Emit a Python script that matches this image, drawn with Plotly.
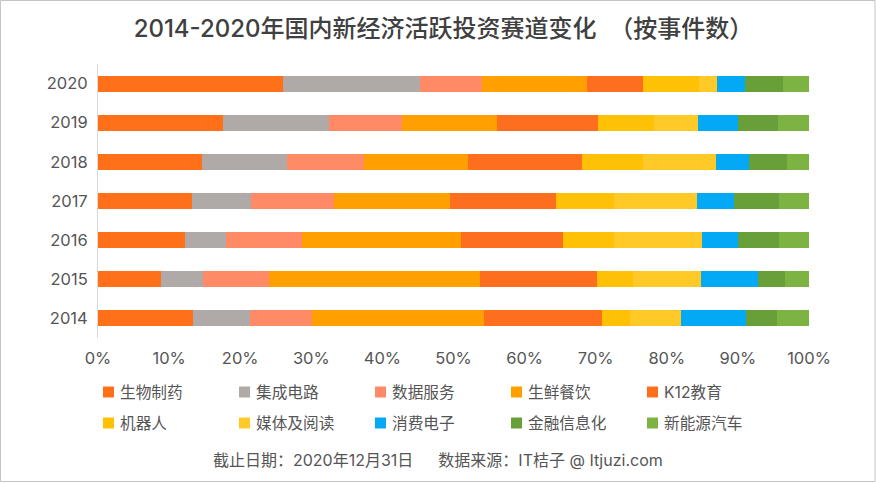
import plotly.graph_objects as go

years = ["2014", "2015", "2016", "2017", "2018", "2019", "2020"]

# 各赛道占比(%)  2014 -> 2020
biopharma = [13.36, 8.86, 12.24, 13.22, 14.63, 17.58, 26.0]
chips = [7.97, 5.91, 5.76, 8.3, 11.95, 14.91, 19.25]
data_service = [8.72, 9.28, 10.65, 11.63, 10.79, 10.21, 8.72]
fresh_food = [24.24, 29.68, 22.4, 16.36, 14.67, 13.4, 14.81]
k12 = [16.6, 16.45, 14.35, 14.91, 16.03, 14.2, 7.87]
robot = [3.93, 5.07, 7.17, 8.15, 8.58, 7.9, 7.88]
media = [7.18, 9.56, 12.38, 11.68, 10.27, 6.2, 2.53]
consumer_elec = [9.1, 8.02, 5.02, 5.15, 4.64, 5.57, 3.94]
fintech = [4.4, 3.79, 5.81, 6.38, 5.34, 5.63, 5.34]
new_energy_car = [4.5, 3.38, 4.22, 4.22, 3.1, 4.4, 3.66]

names = ["生物制药", "集成电路", "数据服务", "生鲜餐饮", "K12教育",
         "机器人", "媒体及阅读", "消费电子", "金融信息化", "新能源汽车"]
series = [biopharma, chips, data_service, fresh_food, k12,
          robot, media, consumer_elec, fintech, new_energy_car]
colors = ["#FF7019", "#AFAAA8", "#FF8A65", "#FF9F00", "#FD6E1E",
          "#FFC106", "#FFCA28", "#03A9F4", "#689F38", "#7CB342"]

WIDTH, HEIGHT = 876, 483
FONT = "Inter, Noto Sans CJK SC"
TEXT = "#555555"
left, top, bottom, right = 98, 64, 338, 809


def paper_x(px):
    return (px - left) / (right - left)


def paper_y(py):
    return (bottom - py) / (bottom - top)


fig = go.Figure()

for name, values, color in zip(names, series, colors):
    fig.add_trace(go.Bar(y=years, x=values, name=name, orientation="h",
                         marker=dict(color=color, line_width=0)))

# 外框
shapes = [dict(type="rect", xref="paper", yref="paper",
               x0=paper_x(0.5), x1=paper_x(875), y0=paper_y(0.5), y1=paper_y(481.5),
               line=dict(width=1, color="#C4C4C4"))]
annotations = []

# 图例: 两行五列
for i, (name, color) in enumerate(zip(names, colors)):
    px = 103 + 136 * (i % 5)
    py = 392 + 31 * (i // 5)
    shapes.append(dict(type="rect", xref="paper", yref="paper",
                       x0=paper_x(px), x1=paper_x(px + 11),
                       y0=paper_y(py - 5.5), y1=paper_y(py + 5.5),
                       fillcolor=color, line_width=0))
    annotations.append(dict(text=name, xref="paper", yref="paper", showarrow=False,
                            x=paper_x(px + 16), xanchor="left",
                            y=paper_y(py), yanchor="middle",
                            xshift=-1,
                            font=dict(size=15.7, color=TEXT, family=FONT)))

annotations.append(dict(text="截止日期：2020年12月31日　\u00a0\u00a0数据来源：IT桔子 @ Itjuzi.com",
                        xref="paper", yref="paper", showarrow=False,
                        x=paper_x(437.5), xanchor="center",
                        y=paper_y(460), yanchor="middle",
                        font=dict(size=16, color=TEXT, family=FONT)))

fig.update_layout(
    width=WIDTH, height=HEIGHT,
    margin=dict(l=left, r=WIDTH - right, t=top, b=HEIGHT - bottom, pad=0),
    barmode="stack", bargap=0.59,
    showlegend=False,
    plot_bgcolor="white", paper_bgcolor="white",
    font=dict(family=FONT, color=TEXT, size=15.7),
    title=dict(text="2014-2020年国内新经济活跃投资赛道变化 \u00a0（按事件数）",
               x=443.5 / WIDTH, xanchor="center", y=1 - 29 / HEIGHT, yanchor="middle",
               font=dict(size=24, color="#404040", family=FONT, weight=500)),
    xaxis=dict(range=[0, 100], tickvals=list(range(0, 101, 10)),
               ticktext=[f"{v}%" for v in range(0, 101, 10)],
               showgrid=False, zeroline=False, ticks="", showline=False,
               ticklabelstandoff=8, tickfont=dict(size=16.5, color=TEXT)),
    yaxis=dict(showgrid=False, ticks="", showline=True, linecolor="#D9D9D9", linewidth=1,
               ticklabelstandoff=6, tickfont=dict(size=16.5, color=TEXT)),
    shapes=shapes,
    annotations=annotations,
)

fig.write_html("out.html", config={"displayModeBar": False},
               post_script="document.body.style.margin='0';")
